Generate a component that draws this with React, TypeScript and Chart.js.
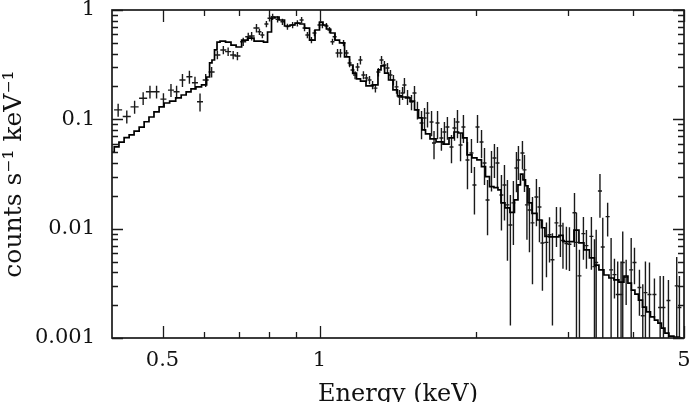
import React, { useEffect, useRef } from 'react';
import { Chart, registerables } from 'chart.js';

Chart.register(...registerables);

// Axis tick values
const xLabelTicks = [0.5, 1, 5];
const xMinorTicks = [0.6, 0.7, 0.8, 0.9, 2, 3, 4];
const yLabelTicks = [0.001, 0.01, 0.1, 1];
const yMinorTicks = [
  0.002, 0.003, 0.004, 0.005, 0.006, 0.007, 0.008, 0.009,
  0.02, 0.03, 0.04, 0.05, 0.06, 0.07, 0.08, 0.09,
  0.2, 0.3, 0.4, 0.5, 0.6, 0.7, 0.8, 0.9,
];

// Observed spectrum: bin energy (keV), half bin width (keV), rate, 1-sigma error
const dataE = [
  0.411, 0.427, 0.442, 0.459, 0.473,
  0.487, 0.502, 0.519, 0.532, 0.546, 0.563, 0.577, 0.590, 0.605, 0.621,
  0.637, 0.654, 0.668, 0.683, 0.696, 0.714, 0.730, 0.741, 0.757,
  0.767, 0.777, 0.791, 0.802, 0.813, 0.831, 0.849, 0.868, 0.888, 0.907,
  0.924, 0.936, 0.948, 0.965, 0.978, 1.000, 1.013, 1.031, 1.045, 1.059, 1.069,
  1.083, 1.097, 1.112, 1.127, 1.142, 1.157, 1.170, 1.183, 1.198, 1.214,
  1.230, 1.247, 1.264, 1.280, 1.297, 1.315, 1.332, 1.350, 1.368, 1.386,
  1.405, 1.424, 1.443, 1.455, 1.475, 1.501, 1.521, 1.541, 1.569, 1.590,
  1.611, 1.640, 1.658, 1.684, 1.713, 1.736, 1.759, 1.791, 1.815, 1.839,
  1.864, 1.888, 1.922, 1.956, 1.982, 2.009, 2.045, 2.072, 2.100, 2.137,
  2.165, 2.194, 2.233, 2.263, 2.293, 2.323, 2.354, 2.386, 2.407, 2.450,
  2.472, 2.499, 2.527, 2.561, 2.606, 2.641, 2.676, 2.724, 2.761, 2.797,
  2.847, 2.897, 2.930, 2.975, 3.015, 3.083, 3.110, 3.151, 3.207, 3.250, 3.322, 3.367,
  3.393, 3.450, 3.493, 3.569, 3.624, 3.678, 3.731, 3.787, 3.815, 3.873, 3.960,
  4.018, 4.107, 4.168, 4.217, 4.293, 4.388, 4.500, 4.566, 4.668, 4.842, 4.900,
];
const dataEErr = [
  0.0073, 0.0076, 0.0079, 0.0082, 0.0084,
  0.0065, 0.0067, 0.0069, 0.0071, 0.0073, 0.0075, 0.0077, 0.0078, 0.0080, 0.0083,
  0.0085, 0.0087, 0.0089, 0.0091, 0.0093, 0.0095, 0.0097, 0.0099, 0.0101,
  0.0068, 0.0069, 0.0070, 0.0071, 0.0072, 0.0074, 0.0075, 0.0077, 0.0079, 0.0080,
  0.0082, 0.0083, 0.0084, 0.0086, 0.0087, 0.0089, 0.0090, 0.0092, 0.0093, 0.0094, 0.0095,
  0.0096, 0.0098, 0.0099, 0.0100, 0.0102, 0.0103, 0.0104, 0.0105, 0.0107, 0.0108,
  0.0109, 0.0111, 0.0112, 0.0114, 0.0115, 0.0117, 0.0118, 0.0120, 0.0122, 0.0123,
  0.0125, 0.0127, 0.0128, 0.0129, 0.0131, 0.0133, 0.0135, 0.0137, 0.0139, 0.0141,
  0.0143, 0.0145, 0.0147, 0.0149, 0.0152, 0.0154, 0.0156, 0.0159, 0.0161, 0.0163,
  0.0165, 0.0167, 0.0170, 0.0173, 0.0175, 0.0178, 0.0181, 0.0183, 0.0186, 0.0189,
  0.0191, 0.0194, 0.0197, 0.0200, 0.0203, 0.0205, 0.0208, 0.0211, 0.0213, 0.0217,
  0.0219, 0.0221, 0.0223, 0.0226, 0.0230, 0.0233, 0.0237, 0.0241, 0.0244, 0.0248,
  0.0252, 0.0256, 0.0259, 0.0263, 0.0267, 0.0273, 0.0275, 0.0279, 0.0284, 0.0288, 0.0294, 0.0298,
  0.030, 0.031, 0.031, 0.032, 0.032, 0.033, 0.033, 0.034, 0.034, 0.034, 0.035,
  0.036, 0.036, 0.037, 0.037, 0.038, 0.039, 0.040, 0.040, 0.041, 0.043, 0.043,
];
const dataRate = [
  0.122, 0.106, 0.130, 0.156, 0.179,
  0.179, 0.153, 0.185, 0.179, 0.229, 0.245, 0.216, 0.145, 0.229, 0.271,
  0.388, 0.431, 0.416, 0.388, 0.380, 0.513, 0.570, 0.578, 0.684,
  0.633, 0.590, 0.745, 0.840, 0.868, 0.822, 0.782, 0.704, 0.729, 0.756,
  0.810, 0.684, 0.590, 0.531, 0.616, 0.729, 0.729, 0.714, 0.656, 0.513, 0.570,
  0.404, 0.404, 0.499, 0.404, 0.328, 0.283, 0.254, 0.301, 0.349, 0.254,
  0.239, 0.229, 0.206, 0.193, 0.271, 0.349, 0.314, 0.295, 0.254, 0.229,
  0.198, 0.160, 0.174, 0.206, 0.160, 0.144, 0.174, 0.122, 0.0926, 0.103,
  0.114, 0.0945, 0.0607, 0.0926, 0.0675, 0.0766, 0.0851, 0.0558, 0.0833, 0.0945,
  0.0582, 0.0851, 0.0425, 0.0492, 0.0251, 0.0851, 0.0620, 0.0399, 0.0183, 0.0366,
  0.0443, 0.0399, 0.0203, 0.0251, 0.0165, 0.0108, 0.0172, 0.0359, 0.0425, 0.0492,
  0.0345, 0.0165, 0.0148, 0.0113, 0.0195, 0.0158, 0.0074, 0.0075, 0.0088, 0.0052,
  0.0113, 0.0106, 0.0078, 0.0073, 0.0072, 0.0140, 0.0075, 0.0037, 0.0090, 0.0070, 0.0085, 0.0045,
  0.0049, 0.0221, 0.0068, 0.0129, 0.0042, 0.0038, 0.0025, 0.0025, 0.0049, 0.0036, 0.0042,
  0.0049, 0.0029, 0.0016, 0.0026, 0.0025, 0.0025, 0.0019, 0.0019, 0.0022, 0.0030, 0.0019,
];
const dataRateErr = [
  0.0165, 0.0143, 0.0176, 0.021, 0.024,
  0.024, 0.0206, 0.025, 0.024, 0.031, 0.033, 0.029, 0.027, 0.031, 0.030,
  0.034, 0.038, 0.037, 0.034, 0.033, 0.045, 0.050, 0.051, 0.060,
  0.041, 0.038, 0.048, 0.055, 0.056, 0.053, 0.051, 0.046, 0.047, 0.049,
  0.053, 0.044, 0.038, 0.035, 0.040, 0.047, 0.047, 0.046, 0.043, 0.033, 0.037,
  0.036, 0.036, 0.032, 0.026, 0.029, 0.025, 0.022, 0.026, 0.031, 0.022,
  0.021, 0.020, 0.018, 0.017, 0.024, 0.031, 0.028, 0.033, 0.028, 0.025,
  0.027, 0.025, 0.0235, 0.033, 0.025, 0.023, 0.028, 0.0225, 0.0267, 0.0242,
  0.0297, 0.0245, 0.0175, 0.0267, 0.0159, 0.018, 0.020, 0.0161, 0.0196, 0.0272,
  0.0168, 0.0245, 0.0196, 0.0169, 0.0116, 0.0245, 0.0179, 0.0148, 0.0096, 0.0147,
  0.0152, 0.016, 0.0107, 0.0132, 0.0114, 0.0095, 0.0101, 0.0144, 0.0146, 0.0142,
  0.0128, 0.0086, 0.0087, 0.0082, 0.009, 0.0083, 0.0047, 0.0039, 0.0039, 0.0039,
  0.0045, 0.0051, 0.0035, 0.0031, 0.0031, 0.0072, 0.0065, 0.0027, 0.0038, 0.0027, 0.0043, 0.0035,
  0.0049, 0.0095, 0.0058, 0.0044, 0.0040, 0.0015, 0.0025, 0.0025, 0.0045, 0.0016, 0.0040,
  0.0018, 0.0013, 0.0015, 0.0024, 0.0024, 0.0010, 0.0018, 0.0018, 0.0012, 0.0025, 0.0018,
];

// Folded model (histogram)
const modelE = [
  0.400, 0.408, 0.417, 0.427, 0.436, 0.446, 0.456, 0.466, 0.476, 0.487,
  0.498, 0.509, 0.523, 0.537, 0.549, 0.561, 0.573, 0.586, 0.602, 0.613,
  0.618, 0.626, 0.632, 0.640, 0.649, 0.672, 0.681, 0.703, 0.715, 0.741,
  0.757, 0.774, 0.788, 0.802, 0.816, 0.827, 0.846, 0.868, 0.888, 0.907,
  0.928, 0.944, 0.970, 0.991, 1.009, 1.022, 1.041, 1.059, 1.083, 1.102,
  1.132, 1.152, 1.167, 1.188, 1.209, 1.247, 1.286, 1.303, 1.321, 1.345,
  1.368, 1.398, 1.424, 1.449, 1.475, 1.508, 1.535, 1.562, 1.583, 1.611,
  1.647, 1.699, 1.752, 1.791, 1.831, 1.864, 1.897, 1.939, 1.982, 2.026,
  2.063, 2.100, 2.137, 2.184, 2.214, 2.243, 2.293, 2.344, 2.386, 2.418,
  2.439, 2.472, 2.494, 2.527, 2.584, 2.641, 2.688, 2.724, 2.785, 2.847,
  2.911, 2.950, 3.042, 3.110, 3.179, 3.250, 3.337, 3.397, 3.472, 3.550,
  3.629, 3.710, 3.793, 3.878, 3.929, 3.999, 4.053, 4.125, 4.199, 4.274,
  4.350, 4.427, 4.486, 4.566, 4.627, 4.730, 4.835, 4.966,
];
const modelRate = [
  0.050, 0.056, 0.062, 0.068, 0.072, 0.078, 0.085, 0.095, 0.105, 0.117,
  0.130, 0.141, 0.147, 0.157, 0.167, 0.178, 0.190, 0.198, 0.207, 0.244,
  0.328, 0.349, 0.431, 0.509, 0.520, 0.509, 0.478, 0.459, 0.531, 0.554,
  0.520, 0.520, 0.509, 0.629, 0.845, 0.863, 0.810, 0.714, 0.729, 0.760,
  0.745, 0.684, 0.531, 0.656, 0.776, 0.729, 0.670, 0.616, 0.531, 0.500,
  0.372, 0.314, 0.265, 0.234, 0.224, 0.202, 0.207, 0.283, 0.308, 0.265,
  0.229, 0.186, 0.164, 0.160, 0.157, 0.147, 0.122, 0.103, 0.080, 0.0737,
  0.0662, 0.0621, 0.0594, 0.0676, 0.0766, 0.075, 0.0676, 0.0473, 0.0444, 0.0425,
  0.0370, 0.0299, 0.0242, 0.0237, 0.0226, 0.0172, 0.0155, 0.0141, 0.0183, 0.0252,
  0.0316, 0.0279, 0.0247, 0.0172, 0.0138, 0.0120, 0.0102, 0.0085, 0.0084, 0.0084,
  0.0087, 0.0076, 0.0076, 0.0097, 0.0074, 0.0064, 0.0054, 0.00465, 0.0042, 0.00377,
  0.00354, 0.0034, 0.00325, 0.00369, 0.00318, 0.00274, 0.00252, 0.00222, 0.00192, 0.00173,
  0.00156, 0.00146, 0.00137, 0.00123, 0.00111, 0.00104, 0.00102, 0.00100,
];

const X_MIN = 0.4;
const X_MAX = 5;
const Y_MIN = 0.001;
const Y_MAX = 1;
const FONT = "'DejaVu Serif', serif";

const frameTicksPlugin = {
  id: 'frameTicks',
  afterDatasetsDraw(chart: any) {
    const { ctx, chartArea: a, scales } = chart;
    const xs = scales.x;
    const ys = scales.y;
    ctx.save();
    ctx.strokeStyle = '#1a1a1a';
    ctx.lineWidth = 1.3;
    const drawX = (vals: number[], len: number) => {
      vals.forEach((v) => {
        const px = Math.round(xs.getPixelForValue(v)) + 0.5;
        ctx.beginPath();
        ctx.moveTo(px, a.bottom);
        ctx.lineTo(px, a.bottom - len);
        ctx.moveTo(px, a.top);
        ctx.lineTo(px, a.top + len);
        ctx.stroke();
      });
    };
    const drawY = (vals: number[], len: number) => {
      vals.forEach((v) => {
        const py = Math.round(ys.getPixelForValue(v)) + 0.5;
        ctx.beginPath();
        ctx.moveTo(a.left, py);
        ctx.lineTo(a.left + len, py);
        ctx.moveTo(a.right, py);
        ctx.lineTo(a.right - len, py);
        ctx.stroke();
      });
    };
    drawX(xLabelTicks, 12);
    drawX(xMinorTicks, 6);
    drawY(yLabelTicks, 11);
    drawY(yMinorTicks, 6);
    ctx.lineWidth = 1.7;
    ctx.strokeRect(a.left, a.top, a.right - a.left, a.bottom - a.top);
    ctx.restore();
  },
};

export default function App() {
  const canvasRef = useRef<HTMLCanvasElement | null>(null);

  useEffect(() => {
    if (!canvasRef.current) return;

    const vBars: any[] = [];
    const hBars: any[] = [];
    dataE.forEach((e, i) => {
      const r = dataRate[i];
      const s = dataRateErr[i];
      const w = dataEErr[i];
      if (r === undefined || s === undefined || w === undefined) return;
      vBars.push({ x: e, y: Math.max(r - s, 0.0005) });
      vBars.push({ x: e, y: r + s });
      vBars.push({ x: e, y: null });
      hBars.push({ x: e - w, y: r });
      hBars.push({ x: e + w, y: r });
      hBars.push({ x: e, y: null });
    });
    const model = modelE.map((e, i) => ({ x: e, y: modelRate[i] }));

    const chart = new Chart(canvasRef.current, {
      type: 'line',
      data: {
        datasets: [
          {
            label: 'model',
            data: model,
            borderColor: '#000',
            borderWidth: 1.7,
            pointRadius: 0,
            stepped: 'middle',
            fill: false,
            clip: 0,
          },
          {
            label: 'data-y',
            data: vBars,
            borderColor: '#1a1a1a',
            borderWidth: 1.4,
            pointRadius: 0,
            spanGaps: false,
            fill: false,
            clip: 0,
          },
          {
            label: 'data-x',
            data: hBars,
            borderColor: '#1a1a1a',
            borderWidth: 1.4,
            pointRadius: 0,
            spanGaps: false,
            fill: false,
            clip: 0,
          },
        ],
      } as any,
      options: {
        responsive: false,
        animation: false,
        devicePixelRatio: 1,
        layout: { padding: { top: 10, right: 13, left: 0, bottom: 0 } },
        plugins: {
          legend: { display: false },
          tooltip: { enabled: false },
        },
        scales: {
          x: {
            type: 'logarithmic',
            position: 'bottom',
            min: X_MIN,
            max: X_MAX,
            border: { display: false },
            grid: {
              display: true,
              drawOnChartArea: false,
              drawTicks: true,
              tickLength: 10,
              color: 'rgba(0,0,0,0)',
            },
            afterBuildTicks: (s: any) => {
              s.ticks = xLabelTicks.map((v) => ({ value: v }));
            },
            afterFit: (s: any) => {
              s.height = 64;
            },
            ticks: {
              autoSkip: false,
              maxRotation: 0,
              padding: 0,
              color: '#111',
              font: { family: FONT, size: 21, lineHeight: 1.2 },
              callback: (v: any) => String(v),
            },
            title: {
              display: true,
              text: 'Energy (keV)',
              color: '#111',
              font: { family: FONT, size: 24, lineHeight: 1 },
              padding: { top: 0, bottom: -5 },
            },
          },
          y: {
            type: 'logarithmic',
            position: 'left',
            min: Y_MIN,
            max: Y_MAX,
            border: { display: false },
            grid: {
              display: true,
              drawOnChartArea: false,
              drawTicks: true,
              tickLength: 17,
              color: 'rgba(0,0,0,0)',
            },
            afterBuildTicks: (s: any) => {
              s.ticks = yLabelTicks.map((v) => ({ value: v }));
            },
            afterFit: (s: any) => {
              s.width = 112;
            },
            ticks: {
              autoSkip: false,
              padding: 0,
              color: '#111',
              font: { family: FONT, size: 21, lineHeight: 0.9 },
              callback: (v: any) => String(v),
            },
            title: {
              display: true,
              text: 'counts s\u207B\u00B9 keV\u207B\u00B9',
              color: '#111',
              font: { family: FONT, size: 25, lineHeight: 1 },
              padding: { top: 1.5, bottom: 0 },
            },
          },
        },
      } as any,
      plugins: [frameTicksPlugin],
    });

    return () => {
      chart.destroy();
    };
  }, []);

  return (
    <div style={{ position: 'fixed', left: 0, top: 0, width: 697, height: 402, background: '#fff' }}>
      <canvas ref={canvasRef} width={697} height={402} style={{ display: 'block' }} />
    </div>
  );
}
